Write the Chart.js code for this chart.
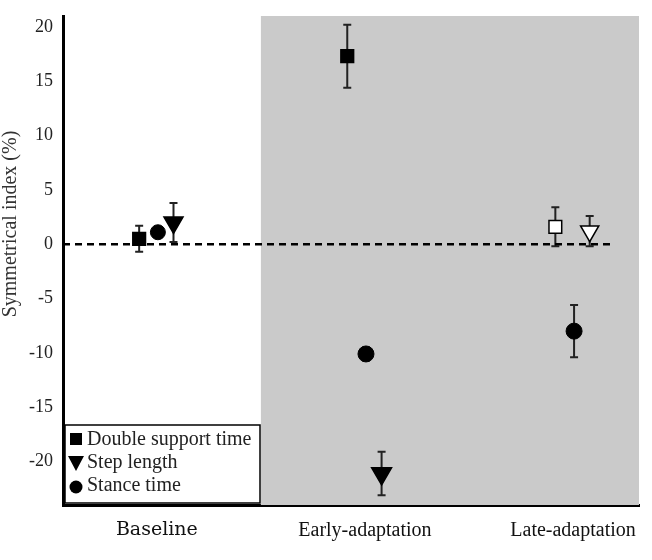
<!DOCTYPE html>
<html>
<head>
<meta charset="utf-8">
<script src="https://cdn.jsdelivr.net/npm/chart.js"></script>
<style>
  html, body { margin: 0; padding: 0; background: #fff; }
</style>
</head>
<body>
<canvas id="chart" width="652" height="560"></canvas>
<script>
// data
var categories = ['Baseline', 'Early-adaptation', 'Late-adaptation'];
var yTicks = [-20, -15, -10, -5, 0, 5, 10, 15, 20];
var yTitle = 'Symmetrical index (%)';

var doubleSupport    = [0.5, 17.3, 1.6];
var doubleSupportErr = [1.2, 2.9, 1.8];
var stepLength       = [2.0, -21.1, 1.2];
var stepLengthErr    = [1.8, 2.0, 1.4];
var stanceTime       = [1.1, -10.1, -8.0];
var stanceTimeErr    = [0, 0.6, 2.4];

var serif = '"Liberation Serif", "DejaVu Serif", serif';
var xMin = 0.549, xMax = 3.317;

function pts(vals, shift) {
  return vals.map(function(v, i) { return { x: i + 1 + shift, y: v }; });
}

// grey shading behind adaptation phases + error bars
var backdrop = {
  id: 'backdrop',
  beforeDatasetsDraw: function(chart) {
    var ctx = chart.ctx, a = chart.chartArea;
    var xs = chart.scales.x, ys = chart.scales.y;
    ctx.save();
    ctx.fillStyle = '#cacaca';
    var gx = xs.getPixelForValue(1.5);
    ctx.fillRect(gx, a.top, a.right - gx, a.bottom - a.top);

    ctx.strokeStyle = '#222';
    ctx.lineWidth = 2;
    chart.data.datasets.forEach(function(ds, i) {
      if (!ds.errors) return;
      var meta = chart.getDatasetMeta(i);
      meta.data.forEach(function(p, j) {
        var e = ds.errors[j];
        if (!e) return;
        var v = ds.data[j].y;
        var y1 = ys.getPixelForValue(v + e), y2 = ys.getPixelForValue(v - e);
        ctx.beginPath();
        ctx.moveTo(p.x, y1); ctx.lineTo(p.x, y2);
        ctx.moveTo(p.x - 4, y1); ctx.lineTo(p.x + 4, y1);
        ctx.moveTo(p.x - 4, y2); ctx.lineTo(p.x + 4, y2);
        ctx.stroke();
      });
    });
    ctx.restore();
  }
};

// boxed legend in lower-left corner, and the y title
var legendBox = {
  id: 'legendBox',
  afterDraw: function(chart) {
    var ctx = chart.ctx, a = chart.chartArea;
    var x = a.left + 2, y = a.bottom - 80, w = 195, h = 78;
    ctx.save();
    ctx.fillStyle = '#fff';
    ctx.fillRect(x, y, w, h);
    ctx.strokeStyle = '#000';
    ctx.lineWidth = 1.5;
    ctx.strokeRect(x, y, w, h);
    ctx.fillStyle = '#000';
    var mx = x + 11;
    // square
    ctx.fillRect(mx - 6, y + 8, 12, 12);
    // triangle down
    ctx.beginPath();
    ctx.moveTo(mx - 8, y + 31); ctx.lineTo(mx + 8, y + 31); ctx.lineTo(mx, y + 46);
    ctx.closePath(); ctx.fill();
    // circle
    ctx.beginPath();
    ctx.arc(mx, y + 62, 6.5, 0, Math.PI * 2); ctx.fill();

    ctx.fillStyle = '#222';
    ctx.font = '20px ' + serif;
    ctx.textBaseline = 'middle';
    var names = chart.data.datasets.filter(function(d) { return d.errors; }).map(function(d) { return d.label; });
    ctx.fillText(names[0], x + 22, y + 15);
    ctx.fillText(names[1], x + 22, y + 38);
    ctx.fillText(names[2], x + 22, y + 61);

    // y axis title
    ctx.translate(11, 224);
    ctx.rotate(-Math.PI / 2);
    ctx.textAlign = 'center';
    ctx.fillStyle = '#333';
    ctx.font = '20px ' + serif;
    ctx.fillText(yTitle, 0, 0);
    ctx.restore();
  }
};

new Chart(document.getElementById('chart'), {
  type: 'scatter',
  data: {
    datasets: [
      {
        label: 'Double support time',
        data: pts(doubleSupport, -0.085),
        errors: doubleSupportErr,
        pointStyle: 'rect',
        pointRadius: 9,
        backgroundColor: ['#000', '#000', '#fff'],
        borderColor: '#000',
        borderWidth: 1.5
      },
      {
        label: 'Step length',
        data: pts(stepLength, 0.08),
        errors: stepLengthErr,
        pointStyle: 'triangle',
        rotation: 180,
        pointRadius: [11, 11.5, 10.5],
        backgroundColor: ['#000', '#000', '#fff'],
        borderColor: '#000',
        borderWidth: 1.5
      },
      {
        label: 'Stance time',
        data: pts(stanceTime, 0.005),
        errors: stanceTimeErr,
        pointStyle: 'circle',
        pointRadius: [7.5, 8, 8],
        backgroundColor: '#000',
        borderColor: '#000',
        borderWidth: 1
      },
      {
        type: 'line',
        label: 'zero',
        data: [{ x: xMin, y: 0 }, { x: 3.2, y: 0 }],
        borderColor: '#000',
        borderWidth: 2.5,
        borderDash: [7, 5],
        pointRadius: 0,
        order: 10
      }
    ]
  },
  options: {
    responsive: false,
    animation: false,
    layout: { padding: { top: 16, right: 12, left: 0, bottom: 0 } },
    plugins: {
      legend: { display: false },
      tooltip: { enabled: false }
    },
    scales: {
      x: {
        type: 'linear',
        min: xMin,
        max: xMax,
        afterBuildTicks: function(scale) {
          scale.ticks = categories.map(function(c, i) { return { value: i + 1 }; });
        },
        afterFit: function(scale) { scale.height = 55; },
        grid: { display: false },
        border: { display: true, color: '#000', width: 3 },
        ticks: {
          color: '#111',
          padding: 6,
          font: function(c) {
            return c.index === 0
              ? { family: '"DejaVu Serif", serif', size: 19 }
              : { family: serif, size: 20 };
          },
          callback: function(v) { return categories[v - 1]; }
        }
      },
      y: {
        min: -24,
        max: 21,
        afterBuildTicks: function(scale) {
          scale.ticks = yTicks.map(function(v) { return { value: v }; });
        },
        afterFit: function(scale) {
          scale.width = 63;
          scale.paddingTop = 0;
          scale.paddingBottom = 0;
        },
        grid: { display: false },
        border: { display: true, color: '#000', width: 3 },
        ticks: {
          color: '#222',
          padding: 2,
          font: { family: serif, size: 18 }
        }
      }
    }
  },
  plugins: [backdrop, legendBox]
});
</script>
</body>
</html>
